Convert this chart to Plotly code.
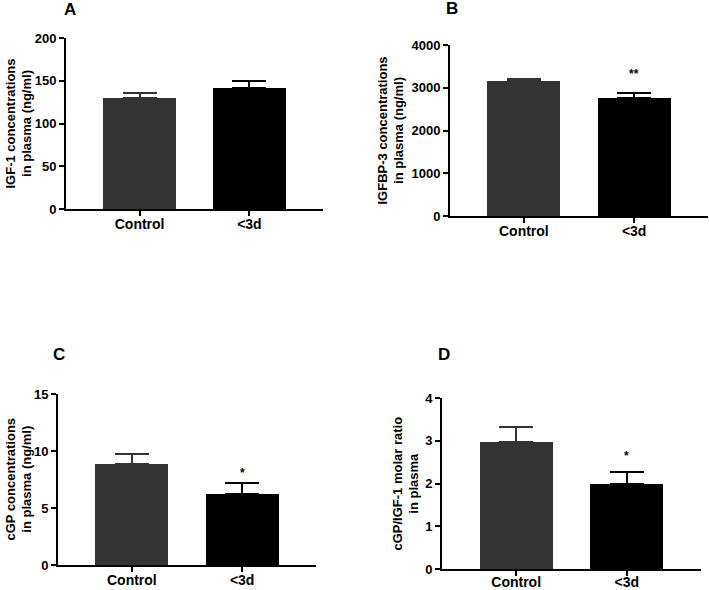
import plotly.graph_objects as go

categories = ["Control", "<3d"]

igf1_mean = [130, 141]
igf1_err = [6, 9]

igfbp3_mean = [3150, 2760]
igfbp3_err = [60, 120]

cgp_mean = [8.85, 6.25]
cgp_err = [0.9, 0.9]

ratio_mean = [2.98, 1.98]
ratio_err = [0.35, 0.3]

bar_colors = ["#333333", "#000000"]

panels = [
    dict(letter="A", mean=igf1_mean, err=igf1_err, ymax=200, dtick=50,
         title="IGF-1 concentrations<br>in plasma (ng/ml)", sig="", sig_y=None,
         xd=[66, 323], yd=[38, 209], title_x=19, letter_xy=(70, 10), standoff=-4),
    dict(letter="B", mean=igfbp3_mean, err=igfbp3_err, ymax=4000, dtick=1000,
         title="IGFBP-3 concentrations<br>in plasma (ng/ml)", sig="**", sig_y=3330,
         xd=[450, 708], yd=[45, 216], title_x=390, letter_xy=(452, 8), standoff=-4),
    dict(letter="C", mean=cgp_mean, err=cgp_err, ymax=15, dtick=5,
         title="cGP concentrations<br>in plasma (ng/ml)", sig="*", sig_y=8.1,
         xd=[58, 316], yd=[394, 565], title_x=18, letter_xy=(59, 355), standoff=-4),
    dict(letter="D", mean=ratio_mean, err=ratio_err, ymax=4, dtick=1,
         title="cGP/IGF-1 molar ratio<br>in plasma", sig="*", sig_y=2.65,
         xd=[442, 701], yd=[398, 569], title_x=405, letter_xy=(444, 355), standoff=-6),
]

W, H = 709, 590
FONT = "Liberation Sans, Arial, sans-serif"

fig = go.Figure()
annotations = []
layout_axes = {}

for i, p in enumerate(panels):
    idx = i + 1
    xa = "x" if idx == 1 else f"x{idx}"
    ya = "y" if idx == 1 else f"y{idx}"
    xkey = "xaxis" if idx == 1 else f"xaxis{idx}"
    ykey = "yaxis" if idx == 1 else f"yaxis{idx}"
    for j, cat in enumerate(categories):
        fig.add_trace(go.Bar(
            x=[cat], y=[p["mean"][j]],
            marker=dict(color=bar_colors[j], line=dict(width=0)),
            width=0.66,
            error_y=dict(type="data", symmetric=False, array=[p["err"][j]],
                         arrayminus=[0], color=bar_colors[j], thickness=2, width=17),
            xaxis=xa, yaxis=ya, showlegend=False,
        ))
    layout_axes[xkey] = dict(
        domain=[p["xd"][0] / W, p["xd"][1] / W],
        anchor=ya, type="category", categoryorder="array", categoryarray=categories,
        range=[-0.67, 1.67], showline=True, linecolor="#000", linewidth=2,
        ticks="outside", ticklen=5, tickwidth=2, tickcolor="#000",
        ticklabelstandoff=p["standoff"],
        tickfont=dict(family=FONT, size=14, color="#000", weight="bold"),
        showgrid=False, zeroline=False, fixedrange=True, automargin=False,
    )
    layout_axes[ykey] = dict(
        domain=[1 - p["yd"][1] / H, 1 - p["yd"][0] / H],
        anchor=xa, range=[0, p["ymax"]], dtick=p["dtick"], tick0=0,
        showline=True, linecolor="#000", linewidth=2,
        ticks="outside", ticklen=5, tickwidth=2, tickcolor="#000",
        tickfont=dict(family=FONT, size=13, color="#000", weight="bold"),
        showgrid=False, zeroline=False, fixedrange=True, automargin=False,
    )
    annotations.append(dict(
        text=p["title"], xref="paper", yref="paper",
        x=p["title_x"] / W, y=1 - (p["yd"][0] + p["yd"][1]) / 2 / H,
        textangle=-90, showarrow=False, xanchor="center", yanchor="middle",
        font=dict(family=FONT, size=13, color="#000", weight="bold"),
    ))
    annotations.append(dict(
        text=p["letter"], xref="paper", yref="paper",
        x=p["letter_xy"][0] / W, y=1 - p["letter_xy"][1] / H,
        showarrow=False, xanchor="center", yanchor="middle",
        font=dict(family=FONT, size=17, color="#000", weight="bold"),
    ))
    if p["sig"]:
        annotations.append(dict(
            text=p["sig"], xref=xa, yref=ya, x=categories[1], y=p["sig_y"],
            showarrow=False, xanchor="center", yanchor="middle",
            font=dict(family=FONT, size=12, color="#000", weight="bold"),
        ))

fig.update_layout(
    template="none",
    width=W, height=H,
    margin=dict(l=0, r=0, t=0, b=0, autoexpand=False),
    plot_bgcolor="white", paper_bgcolor="white",
    annotations=annotations,
    bargap=0,
    **layout_axes,
)

fig.write_html(
    "out.html",
    config={"displayModeBar": False, "staticPlot": True},
    post_script="document.body.style.margin='0';document.body.style.overflow='hidden';",
)
